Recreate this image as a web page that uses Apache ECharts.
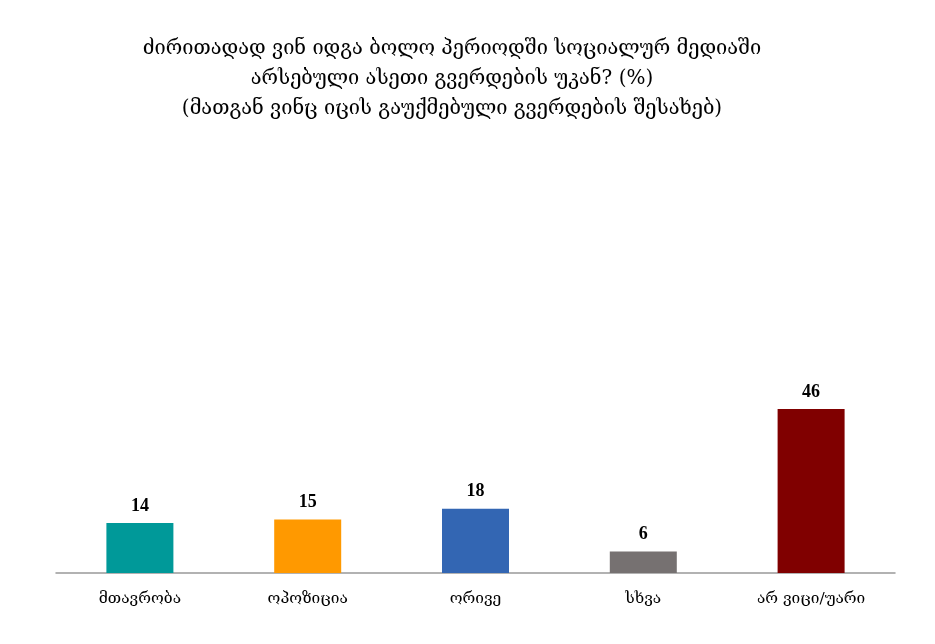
<!DOCTYPE html>
<html><head><meta charset="utf-8">
<script src="https://cdn.jsdelivr.net/npm/echarts@6/dist/echarts.min.js"></script>
<style>html,body{margin:0;padding:0;background:#fff}#c{width:935px;height:644px}</style>
</head><body><div id="c"></div>
<script>
const titleLines = ["ძირითადად ვინ იდგა ბოლო პერიოდში სოციალურ მედიაში", "არსებული ასეთი გვერდების უკან? (%)", "(მათგან ვინც იცის გაუქმებული გვერდების შესახებ)"];
const categories = ["მთავრობა", "ოპოზიცია", "ორივე", "სხვა", "არ ვიცი/უარი"];
const values = [14, 15, 18, 6, 46];
const colors = ["#009999", "#FF9900", "#3366B3", "#767171", "#800000"];

const chart = echarts.init(document.getElementById('c'));
chart.setOption({
  backgroundColor: '#fff',
  title: {
    text: titleLines.join('\n'),
    left: 447, top: 29, textAlign: 'center',
    textStyle: {fontFamily: 'DejaVu Serif', fontSize: 20, fontWeight: 'normal', color: '#000', lineHeight: 30}
  },
  grid: {left: 56, right: 40, top: 359, bottom: 71},
  xAxis: {
    type: 'category', data: categories,
    axisLine: {lineStyle: {color: '#999', width: 1.5}},
    axisTick: {show: false},
    axisLabel: {fontFamily: 'DejaVu Serif', fontSize: 15.5, color: '#000', margin: 18}
  },
  yAxis: {type: 'value', min: 0, max: 60, show: false, splitLine: {show: false}},
  series: [{
    type: 'bar', barWidth: 67,
    data: values.map((v, i) => ({value: v, itemStyle: {color: colors[i]}})),
    label: {show: true, position: 'top', distance: 8, fontFamily: 'Liberation Serif', fontWeight: 'bold', fontSize: 18, color: '#000'}
  }]
});
</script></body></html>
